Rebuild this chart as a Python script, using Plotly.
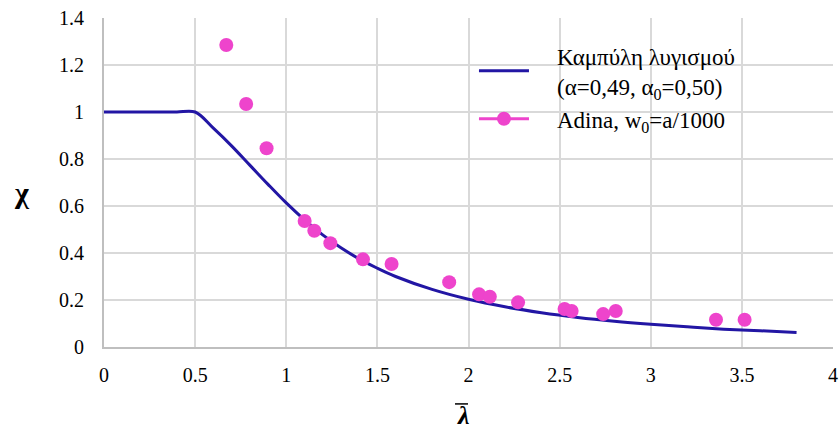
import plotly.graph_objects as go

# Buckling curve
curve_x = [0.0, 0.1, 0.2, 0.3, 0.4, 0.5, 0.6, 0.7, 0.8, 0.9, 1.0, 1.1, 1.2, 1.3, 1.4, 1.5,
           1.6, 1.8, 2.0, 2.2, 2.4, 2.6, 2.8, 3.0, 3.2, 3.4, 3.6, 3.8]
curve_y = [1.0, 1.0, 1.0, 1.0, 1.0, 1.0, 0.931, 0.856, 0.774, 0.692, 0.613, 0.541, 0.477, 0.422,
           0.375, 0.335, 0.300, 0.245, 0.203, 0.171, 0.146, 0.126, 0.110, 0.097, 0.086, 0.076,
           0.069, 0.062]

# Adina results
adina_x = [0.671, 0.780, 0.892, 1.101, 1.154, 1.242, 1.421, 1.578, 1.894, 2.058, 2.117, 2.272,
           2.527, 2.566, 2.739, 2.808, 3.358, 3.515]
adina_y = [1.285, 1.034, 0.846, 0.536, 0.495, 0.442, 0.373, 0.353, 0.276, 0.224, 0.214, 0.190,
           0.162, 0.153, 0.140, 0.153, 0.116, 0.116]

x_ticks = [0, 0.5, 1, 1.5, 2, 2.5, 3, 3.5, 4]
x_tick_labels = ["0", "0.5", "1", "1.5", "2", "2.5", "3", "3.5", "4"]
y_ticks = [0, 0.2, 0.4, 0.6, 0.8, 1, 1.2, 1.4]
y_tick_labels = ["0", "0.2", "0.4", "0.6", "0.8", "1", "1.2", "1.4"]

LINE_COLOR = "#2216A4"
MARK_COLOR = "#EE44CC"
FONT = "Times New Roman"
PAD = "\u00a0\u00a0\u00a0\u00a0"

fig = go.Figure()
fig.add_trace(go.Scatter(
    x=curve_x, y=curve_y, mode="lines",
    line=dict(color=LINE_COLOR, width=3, shape="spline", smoothing=1.0),
    name=PAD + "Καμπύλη λυγισμού<br>" + PAD + "(α=0,49, α<sub>0</sub>=0,50)",
))
fig.add_trace(go.Scatter(
    x=adina_x, y=adina_y, mode="markers",
    marker=dict(color=MARK_COLOR, size=14),
    showlegend=False, name="Adina",
))
fig.add_trace(go.Scatter(
    x=[None], y=[None], mode="lines+markers",
    marker=dict(color=MARK_COLOR, size=14),
    line=dict(color=MARK_COLOR, width=3),
    name=PAD + "Adina, w<sub>0</sub>=a/1000",
))

fig.update_layout(
    width=839, height=430,
    margin=dict(l=104, r=6, t=18, b=83, autoexpand=False),
    paper_bgcolor="white", plot_bgcolor="white",
    font=dict(family=FONT, size=20, color="#000000"),
    showlegend=True,
    legend=dict(x=0.5075, y=0.95, xanchor="left", yanchor="top",
                font=dict(family=FONT, size=23, color="#000000"),
                bgcolor="rgba(0,0,0,0)", itemwidth=50, tracegroupgap=0),
    xaxis=dict(
        range=[0, 4], tickvals=x_ticks, ticktext=x_tick_labels,
        showgrid=True, gridcolor="#d9d9d9", gridwidth=1.5,
        showline=True, linecolor="#bfbfbf", linewidth=2,
        zeroline=False, ticks="", ticklabelstandoff=9, automargin=False,
        tickfont=dict(family=FONT, size=20),
    ),
    yaxis=dict(
        range=[0, 1.4], tickvals=y_ticks, ticktext=y_tick_labels,
        showgrid=True, gridcolor="#d9d9d9", gridwidth=1.5,
        showline=True, linecolor="#bfbfbf", linewidth=2,
        zeroline=False, ticks="", ticklabelstandoff=14, automargin=False,
        tickfont=dict(family=FONT, size=20),
    ),
    annotations=[
        dict(text="<b><i>λ</i></b>", xref="paper", yref="paper", x=0.4938, y=-0.207,
             xanchor="center", yanchor="middle", showarrow=False,
             font=dict(family=FONT, size=26, color="#000000")),
        dict(text="<b>χ</b>", xref="paper", yref="paper", x=-0.1125, y=0.47,
             xanchor="center", yanchor="middle", showarrow=False,
             font=dict(family=FONT, size=30, color="#000000")),
    ],
    shapes=[
        dict(type="line", xref="paper", yref="paper", x0=0.4815, x1=0.4993,
             y0=-0.173, y1=-0.173, line=dict(color="#000000", width=1.5)),
    ],
)

fig.write_html("out.html")
